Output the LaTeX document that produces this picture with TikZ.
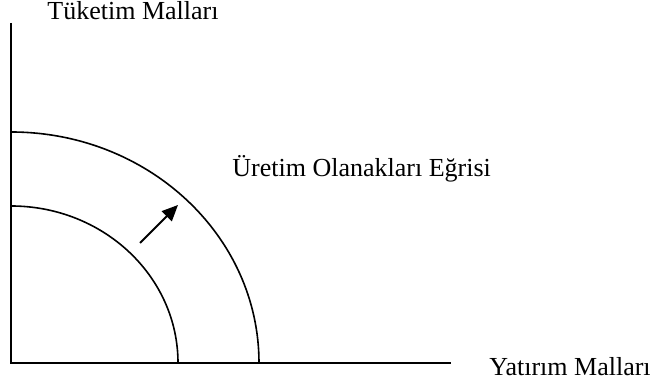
\documentclass[tikz,border=0pt]{standalone}
\usepackage{fontspec}
\setmainfont{Liberation Serif}
\usetikzlibrary{arrows.meta,positioning}

\begin{document}
\begin{tikzpicture}[x=0.5pt,y=0.5pt,
      font=\fontsize{13}{15.5}\selectfont,
      axis/.style={line width=1pt,color=black},
      ppf/.style={line width=0.8pt,color=black},
      outward/.style={-{Triangle[length=8pt,width=7pt]},line width=1pt},
      lbl/.style={anchor=base west,inner sep=0pt}]
      \useasboundingbox (0,0) rectangle (654,389);
      % axes
      \coordinate (origin) at (11,26);
      \coordinate (ytop) at (11,366);
      \coordinate (xend) at (451,26);
      \draw[axis] (ytop) -- (origin) -- (xend);
      % production possibility curves
      \coordinate (inner) at (11,183);
      \coordinate (outer) at (11,257);
      \draw[ppf] (inner) arc[start angle=90,end angle=0,x radius=83.5pt,y radius=78.5pt];
      \draw[ppf] (outer) arc[start angle=90,end angle=0,x radius=124pt,y radius=115.5pt];
      % outward shift
      \coordinate (from) at (140,146);
      \coordinate (to) at (178,184);
      \draw[outward] (from) -- (to);
      % labels
      \node[lbl] (tuketim) at (47,369) {Tüketim Malları};
      \node[lbl] (egri) at (232,212) {Üretim Olanakları Eğrisi};
      \node[lbl] (yatirim) at (489,13) {Yatırım Malları};
\end{tikzpicture}
\end{document}
